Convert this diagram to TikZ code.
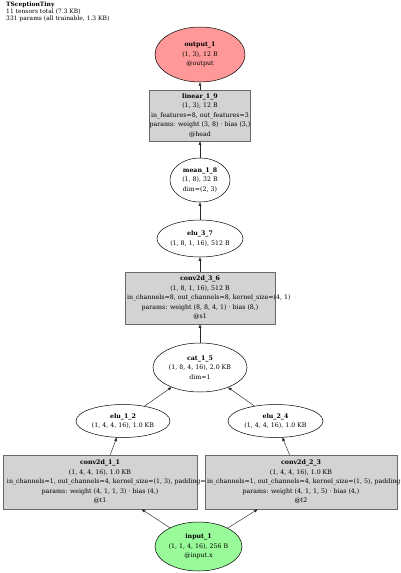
\documentclass[tikz,border=0pt]{standalone}
\usepackage{fontspec}
\setmainfont{DejaVu Serif}
\usetikzlibrary{shapes.geometric,arrows.meta}
\definecolor{boxfill}{RGB}{211,211,211}
\definecolor{boxdraw}{RGB}{105,105,105}
\definecolor{outfill}{RGB}{255,153,153}
\definecolor{infill}{RGB}{153,250,153}
\begin{document}
\begin{tikzpicture}[x=1bp,y=-1bp,
  lbl/.style={font=\fontsize{6.3}{9.5}\selectfont, align=center, inner sep=0pt},
  opnode/.style={lbl, ellipse, draw=black, line width=0.5bp, fill=white},
  layerbox/.style={lbl, rectangle, draw=boxdraw, line width=0.6bp, fill=boxfill},
  edge/.style={draw=black!85, line width=0.45bp, -{Triangle[length=3.5bp,width=2.8bp]}}]
\useasboundingbox (0,0) rectangle (400,573);
\clip (0,0) rectangle (400,573);
\node[anchor=north west, align=left, inner sep=0pt, font=\fontsize{6}{7}\selectfont] (title) at (6,2)
  {\textbf{TSceptionTiny}\\11 tensors total (7.3 KB)\\331 params (all trainable, 1.3 KB)};
\node[opnode, fill=outfill, minimum width=90bp, minimum height=55bp] (out) at (200,54.5)
  {\textbf{output\_1}\\(1, 3), 12 B\\@output};
\node[layerbox, minimum width=96bp, minimum height=51bp] (lin) at (200,115.5)
  {\textbf{linear\_1\_9}\\(1, 3), 12 B\\in\_features=8, out\_features=3\\params: weight (3, 8) · bias (3,)\\@head};
\node[opnode, minimum width=60bp, minimum height=44bp] (mean) at (200,180)
  {\textbf{mean\_1\_8}\\(1, 8), 32 B\\dim=(2, 3)};
\node[opnode, minimum width=86bp, minimum height=37bp] (elu37) at (200,238.5)
  {\textbf{elu\_3\_7}\\(1, 8, 1, 16), 512 B};
\node[layerbox, minimum width=150bp, minimum height=52bp] (conv36) at (200,298)
  {\textbf{conv2d\_3\_6}\\(1, 8, 1, 16), 512 B\\\makebox[146bp][l]{in\_channels=8, out\_channels=8, kernel\_size=(4, 1)}\\params: weight (8, 8, 4, 1) · bias (8,)\\@s1};
\node[opnode, minimum width=94bp, minimum height=49bp] (cat) at (200,367.5)
  {\textbf{cat\_1\_5}\\(1, 8, 4, 16), 2.0 KB\\dim=1};
\node[opnode, minimum width=94bp, minimum height=33bp] (elu12) at (123,421)
  {\textbf{elu\_1\_2}\\(1, 4, 4, 16), 1.0 KB};
\node[opnode, minimum width=95bp, minimum height=33bp] (elu24) at (275.5,421)
  {\textbf{elu\_2\_4}\\(1, 4, 4, 16), 1.0 KB};
\node[layerbox, minimum width=194bp, minimum height=54bp] (conv11) at (100,482)
  {\textbf{conv2d\_1\_1}\\(1, 4, 4, 16), 1.0 KB\\\makebox[186bp][l]{in\_channels=1, out\_channels=4, kernel\_size=(1, 3), padding=(0, 1)}\\params: weight (4, 1, 1, 3) · bias (4,)\\@t1};
\node[layerbox, minimum width=192bp, minimum height=54bp] (conv23) at (301,482)
  {\textbf{conv2d\_2\_3}\\(1, 4, 4, 16), 1.0 KB\\\makebox[188bp][l]{in\_channels=1, out\_channels=4, kernel\_size=(1, 5), padding=(0, 2)}\\params: weight (4, 1, 1, 5) · bias (4,)\\@t2};
\node[opnode, fill=infill, minimum width=87bp, minimum height=49bp] (inp) at (198.5,546.5)
  {\textbf{input\_1}\\(1, 1, 4, 16), 256 B\\@input.x};
\draw[edge] (inp) -- (conv11);
\draw[edge] (inp) -- (conv23);
\draw[edge] (conv11) -- (elu12);
\draw[edge] (conv23) -- (elu24);
\draw[edge] (elu12) -- (cat);
\draw[edge] (elu24) -- (cat);
\draw[edge] (cat) -- (conv36);
\draw[edge] (conv36) -- (elu37);
\draw[edge] (elu37) -- (mean);
\draw[edge] (mean) -- (lin);
\draw[edge] (lin) -- (out);
\end{tikzpicture}
\end{document}
